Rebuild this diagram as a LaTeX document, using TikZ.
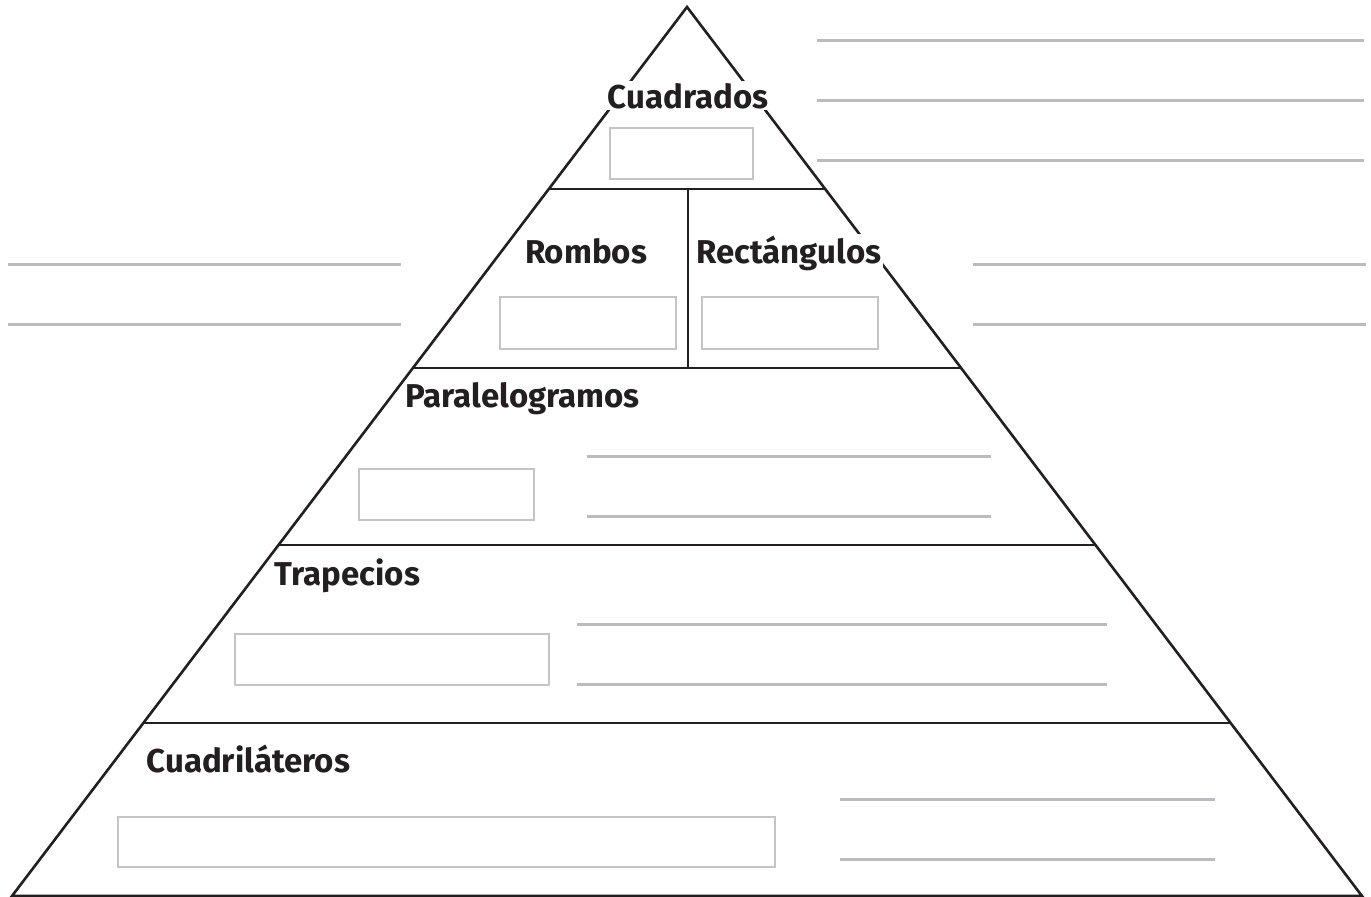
\documentclass[tikz,border=0pt]{standalone}
\usepackage{fontspec}
\setmainfont{Fira Sans}
\usetikzlibrary{calc}
\definecolor{ink}{HTML}{231F20}
\definecolor{rule}{HTML}{BCBCC0}
\definecolor{boxgray}{HTML}{C4C4C6}
\tikzset{
  edge/.style={draw=ink, line width=2.6pt},
  writeline/.style={draw=rule, line width=3pt},
  answerbox/.style={draw=boxgray, line width=2.2pt, fill=white},
  lbl/.style={fill=white, inner sep=1.5pt, text=ink, font=\fontsize{33}{37}\selectfont\bfseries},
}
\begin{document}
\begin{tikzpicture}[x=1pt, y=-1pt]
\useasboundingbox (0,0) rectangle (1371,897);
\fill[white] (0,0) rectangle (1371,897);
% triangle
\coordinate (A) at (687,7);
\coordinate (L) at (12,896);
\coordinate (R) at (1362,896);
\coordinate (l1) at ($(L)!0.7953!(A)$);
\coordinate (r1) at ($(R)!0.7953!(A)$);
\coordinate (l2) at ($(L)!0.5939!(A)$);
\coordinate (r2) at ($(R)!0.5939!(A)$);
\coordinate (l3) at ($(L)!0.3948!(A)$);
\coordinate (r3) at ($(R)!0.3948!(A)$);
\coordinate (l4) at ($(L)!0.1946!(A)$);
\coordinate (r4) at ($(R)!0.1946!(A)$);
\coordinate (vt) at (688,189);
\coordinate (vb) at (688,368);
\draw[edge, line join=miter] (L) -- (A) -- (R) -- cycle;
\draw[edge] (l1) -- (r1);
\draw[edge] (l2) -- (r2);
\draw[edge] (l3) -- (r3);
\draw[edge] (l4) -- (r4);
\draw[edge] (vt) -- (vb);
% answer boxes
\draw[answerbox] (610,128) rectangle (753,179);
\draw[answerbox] (500,297) rectangle (676,349);
\draw[answerbox] (702,297) rectangle (878,349);
\draw[answerbox] (359,469) rectangle (534,520);
\draw[answerbox] (235,634) rectangle (549,685);
\draw[answerbox] (118,817) rectangle (775,867);
% writing lines
\coordinate (t1a) at (817,40);  \coordinate (t1b) at (1364,40);
\coordinate (t2a) at (817,100); \coordinate (t2b) at (1364,100);
\coordinate (t3a) at (817,160); \coordinate (t3b) at (1364,160);
\draw[writeline] (t1a) -- (t1b);
\draw[writeline] (t2a) -- (t2b);
\draw[writeline] (t3a) -- (t3b);
\coordinate (la1) at (8,264);  \coordinate (lb1) at (401,264);
\coordinate (la2) at (8,324);  \coordinate (lb2) at (401,324);
\draw[writeline] (la1) -- (lb1);
\draw[writeline] (la2) -- (lb2);
\coordinate (ra1) at (973,264);  \coordinate (rb1) at (1366,264);
\coordinate (ra2) at (973,324);  \coordinate (rb2) at (1366,324);
\draw[writeline] (ra1) -- (rb1);
\draw[writeline] (ra2) -- (rb2);
\coordinate (pa1) at (587,456); \coordinate (pb1) at (991,456);
\coordinate (pa2) at (587,516); \coordinate (pb2) at (991,516);
\draw[writeline] (pa1) -- (pb1);
\draw[writeline] (pa2) -- (pb2);
\coordinate (qa1) at (577,624); \coordinate (qb1) at (1107,624);
\coordinate (qa2) at (577,684); \coordinate (qb2) at (1107,684);
\draw[writeline] (qa1) -- (qb1);
\draw[writeline] (qa2) -- (qb2);
\coordinate (ca1) at (840,799); \coordinate (cb1) at (1215,799);
\coordinate (ca2) at (840,859); \coordinate (cb2) at (1215,859);
\draw[writeline] (ca1) -- (cb1);
\draw[writeline] (ca2) -- (cb2);
% labels
\node[lbl, anchor=base] (cuadrados) at (688,108) {Cuadrados};
\node[lbl, anchor=base] (rombos) at (586,263) {Rombos};
\node[lbl, anchor=base] (rectangulos) at (789,263) {Rectángulos};
\node[lbl, anchor=base west, fill=none] (paral) at (404,407) {Paralelogramos};
\node[lbl, anchor=base west, fill=none] (trap) at (273,585) {Trapecios};
\node[lbl, anchor=base west, fill=none] (cuadril) at (145,772) {Cuadriláteros};
\end{tikzpicture}
\end{document}
